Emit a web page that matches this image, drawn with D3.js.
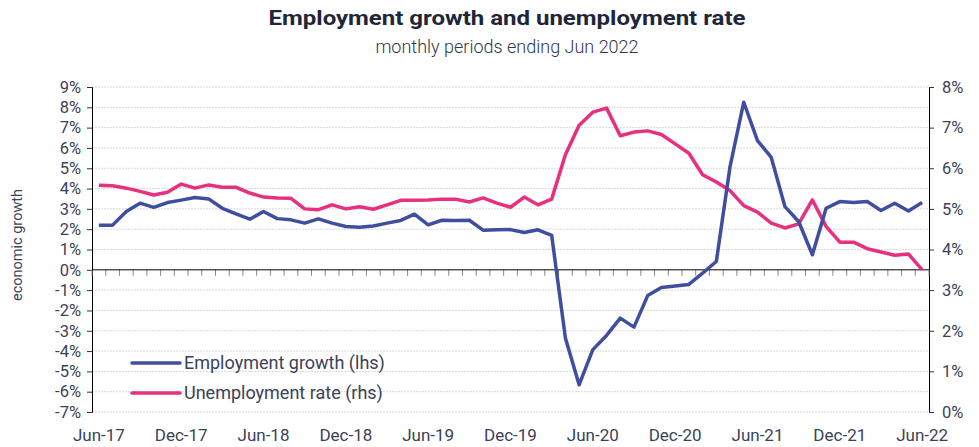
<!DOCTYPE html>
<html>
<head>
<meta charset="utf-8">
<script src="https://cdn.jsdelivr.net/npm/d3@7"></script>
<style>
  body { margin: 0; background: #fff; }
  text { font-family: Roboto, "Liberation Sans", sans-serif; fill: #3b4256; }
</style>
</head>
<body>
<svg id="vis"></svg>
<script>
// monthly periods, Jun-17 .. Jun-22
var months = [
  "Jun-17","Jul-17","Aug-17","Sep-17","Oct-17","Nov-17","Dec-17","Jan-18","Feb-18","Mar-18","Apr-18","May-18",
  "Jun-18","Jul-18","Aug-18","Sep-18","Oct-18","Nov-18","Dec-18","Jan-19","Feb-19","Mar-19","Apr-19","May-19",
  "Jun-19","Jul-19","Aug-19","Sep-19","Oct-19","Nov-19","Dec-19","Jan-20","Feb-20","Mar-20","Apr-20","May-20",
  "Jun-20","Jul-20","Aug-20","Sep-20","Oct-20","Nov-20","Dec-20","Jan-21","Feb-21","Mar-21","Apr-21","May-21",
  "Jun-21","Jul-21","Aug-21","Sep-21","Oct-21","Nov-21","Dec-21","Jan-22","Feb-22","Mar-22","Apr-22","May-22",
  "Jun-22"
];

// employment growth, % (lhs)
var employment = [
  2.2, 2.2, 2.87, 3.28, 3.07, 3.31, 3.43, 3.56, 3.49, 3.03, 2.75, 2.49,
  2.87, 2.52, 2.46, 2.30, 2.51, 2.30, 2.13, 2.10, 2.16, 2.30, 2.43, 2.74,
  2.21, 2.44, 2.43, 2.44, 1.95, 1.97, 1.98, 1.84, 1.97, 1.70, -3.36, -5.66,
  -3.93, -3.23, -2.38, -2.82, -1.27, -0.87, -0.80, -0.72, -0.16, 0.41, 5.08, 8.25,
  6.36, 5.54, 3.11, 2.38, 0.74, 3.03, 3.36, 3.31, 3.36, 2.92, 3.28, 2.90,
  3.31
];

// unemployment rate, % (rhs)
var unemployment = [
  5.58, 5.57, 5.51, 5.43, 5.34, 5.41, 5.61, 5.51, 5.59, 5.53, 5.53, 5.39,
  5.29, 5.27, 5.26, 5.00, 4.98, 5.10, 5.00, 5.05, 4.99, 5.10, 5.21, 5.21,
  5.22, 5.24, 5.24, 5.17, 5.27, 5.14, 5.04, 5.29, 5.10, 5.24, 6.33, 7.06,
  7.38, 7.48, 6.80, 6.89, 6.92, 6.83, 6.60, 6.37, 5.84, 5.66, 5.45, 5.08,
  4.92, 4.65, 4.53, 4.63, 5.22, 4.57, 4.18, 4.18, 4.02, 3.94, 3.86, 3.89,
  3.50
];

var leftTicks = [9, 8, 7, 6, 5, 4, 3, 2, 1, 0, -1, -2, -3, -4, -5, -6, -7];
var rightTicks = [8, 7, 6, 5, 4, 3, 2, 1, 0];
var xLabels = ["Jun-17","Dec-17","Jun-18","Dec-18","Jun-19","Dec-19","Jun-20","Dec-20","Jun-21","Dec-21","Jun-22"];

var seriesNames = ["Employment growth (lhs)", "Unemployment rate (rhs)"];
var colors = ["#3f4e9f", "#e8307f"];

var width = 979, height = 447;
var margin = {top: 87, right: 50, bottom: 35, left: 92};

var svg = d3.select("#vis")
    .attr("width", width)
    .attr("height", height);

var x = d3.scalePoint()
    .domain(months)
    .range([margin.left, width - margin.right])
    .padding(0.5);

var yL = d3.scaleLinear()
    .domain([-7, 9])
    .range([height - margin.bottom, margin.top]);

var yR = d3.scaleLinear()
    .domain([0, 8])
    .range([height - margin.bottom, margin.top]);

//title
svg.append("text")
    .attr("x", 507).attr("y", 25)
    .attr("text-anchor", "middle")
    .attr("textLength", 477)
    .attr("lengthAdjust", "spacingAndGlyphs")
    .style("font-size", "20px")
    .style("font-weight", "bold")
    .style("fill", "#1e2638")
    .text("Employment growth and unemployment rate");

svg.append("text")
    .attr("x", 507).attr("y", 53)
    .attr("text-anchor", "middle")
    .style("font-size", "18px")
    .style("font-weight", "300")
    .style("fill", "#2e3548")
    .text("monthly periods ending Jun 2022");

//gridlines
svg.append("g").selectAll(".grid")
    .data(leftTicks.filter(function(d) { return d != 0; }))
    .enter().append("line")
    .attr("x1", margin.left)
    .attr("x2", width - margin.right)
    .attr("y1", function(d) { return yL(d); })
    .attr("y2", function(d) { return yL(d); })
    .attr("stroke", "#d9d9d9")
    .attr("stroke-dasharray", "2,1");

//left axis
var leftAxis = svg.append("g")
    .attr("transform", "translate(" + margin.left + ",0)")
    .call(d3.axisLeft(yL).tickValues(leftTicks).tickSize(5).tickPadding(6)
        .tickFormat(function(d) { return d + "%"; }));
leftAxis.select(".domain").attr("stroke", "#000");
leftAxis.selectAll(".tick line").attr("stroke", "#333");
leftAxis.selectAll("text").style("font-size", "16.5px").style("fill", "#3b4256").attr("font-family", null);

//right axis
var rightAxis = svg.append("g")
    .attr("transform", "translate(" + (width - margin.right) + ",0)")
    .call(d3.axisRight(yR).tickValues(rightTicks).tickSize(5).tickPadding(8)
        .tickFormat(function(d) { return d + "%"; }));
rightAxis.select(".domain").attr("stroke", "#000");
rightAxis.selectAll(".tick line").attr("stroke", "#333");
rightAxis.selectAll("text").style("font-size", "16.5px").style("fill", "#3b4256").attr("font-family", null);

//zero line with category ticks
var step = x.step();
svg.append("g").selectAll(".catTick")
    .data(d3.range(months.length + 1))
    .enter().append("line")
    .attr("x1", function(i) { return margin.left + i * step; })
    .attr("x2", function(i) { return margin.left + i * step; })
    .attr("y1", yL(0))
    .attr("y2", yL(0) + 6)
    .attr("stroke", "#888");

svg.append("line")
    .attr("x1", margin.left)
    .attr("x2", width - margin.right)
    .attr("y1", yL(0))
    .attr("y2", yL(0))
    .attr("stroke", "#000");

//x labels
svg.append("g").selectAll(".xLabel")
    .data(xLabels)
    .enter().append("text")
    .attr("x", function(d) { return x(d); })
    .attr("y", 441)
    .attr("text-anchor", "middle")
    .style("font-size", "17px")
    .text(function(d) { return d; });

//y axis title
svg.append("text")
    .attr("transform", "translate(22,245) rotate(-90)")
    .attr("text-anchor", "middle")
    .style("font-size", "14.5px")
    .text("economic growth");

//lines
var lineL = d3.line()
    .x(function(d, i) { return x(months[i]); })
    .y(function(d) { return yL(d); });
var lineR = d3.line()
    .x(function(d, i) { return x(months[i]); })
    .y(function(d) { return yR(d); });

svg.append("path")
    .datum(unemployment)
    .attr("d", lineR)
    .attr("fill", "none")
    .attr("stroke", colors[1])
    .attr("stroke-width", 3.5)
    .attr("stroke-linejoin", "round");

svg.append("path")
    .datum(employment)
    .attr("d", lineL)
    .attr("fill", "none")
    .attr("stroke", colors[0])
    .attr("stroke-width", 3.5)
    .attr("stroke-linejoin", "round");

//legend
var legend = svg.append("g").selectAll(".legend")
    .data(seriesNames)
    .enter().append("g")
    .attr("transform", function(d, i) { return "translate(132," + (363 + i * 30) + ")"; });

legend.append("line")
    .attr("x1", 0).attr("x2", 48)
    .attr("stroke", function(d, i) { return colors[i]; })
    .attr("stroke-width", 3.5)
    .attr("stroke-linecap", "round");

legend.append("text")
    .attr("x", 52)
    .attr("dy", "0.35em")
    .style("font-size", "18px")
    .text(function(d) { return d; });
</script>
</body>
</html>
